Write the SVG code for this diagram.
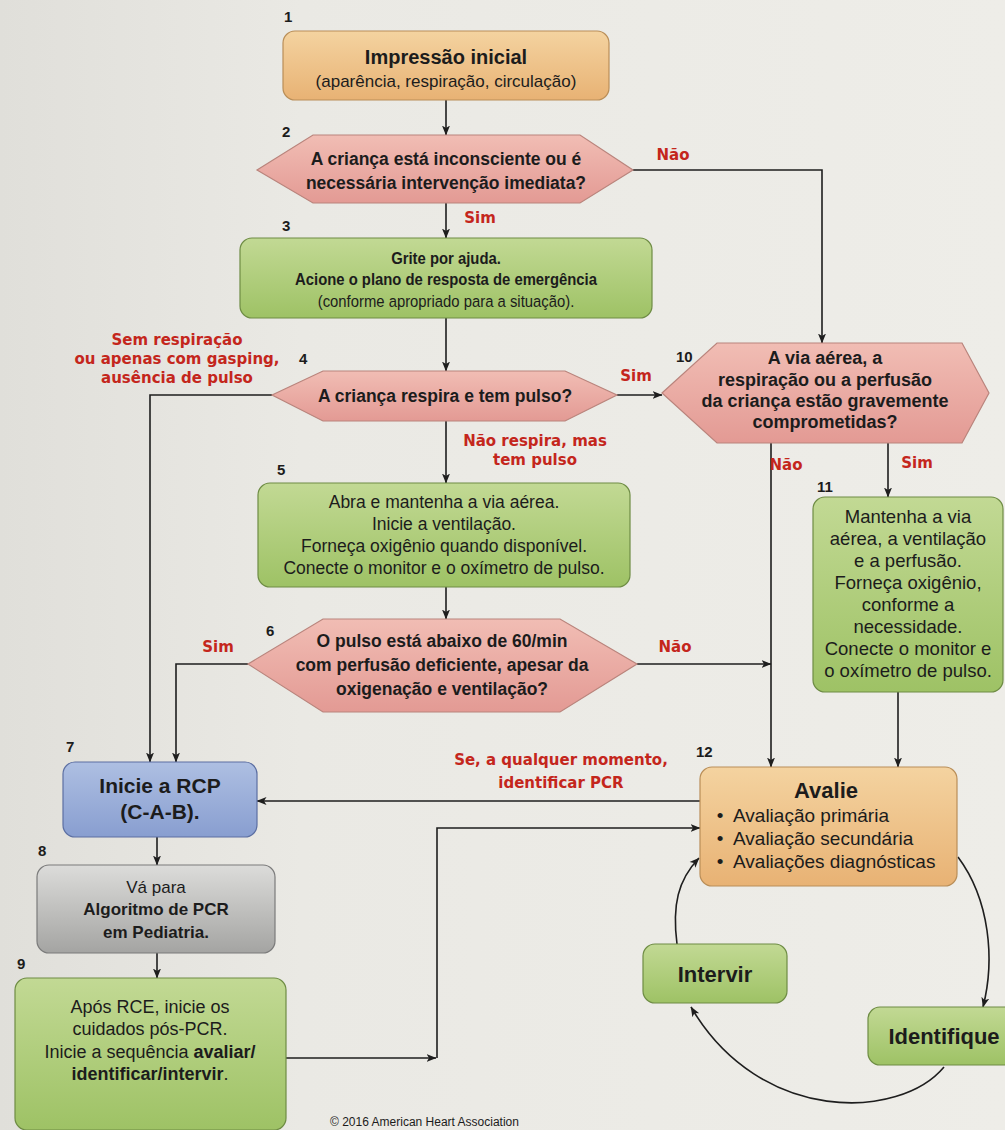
<svg xmlns="http://www.w3.org/2000/svg" width="1005" height="1130" viewBox="0 0 1005 1130">
<defs>
<linearGradient id="gOrange" x1="0" y1="0" x2="0" y2="1"><stop offset="0" stop-color="#f4d3a0"/><stop offset="1" stop-color="#e8b274"/></linearGradient>
<linearGradient id="gGreen" x1="0" y1="0" x2="0" y2="1"><stop offset="0" stop-color="#c2d994"/><stop offset="1" stop-color="#9ec265"/></linearGradient>
<linearGradient id="gPink" x1="0" y1="0" x2="0" y2="1"><stop offset="0" stop-color="#f1bdb4"/><stop offset="1" stop-color="#e39a94"/></linearGradient>
<linearGradient id="gBlue" x1="0" y1="0" x2="0" y2="1"><stop offset="0" stop-color="#aebfe2"/><stop offset="1" stop-color="#889ed0"/></linearGradient>
<linearGradient id="gGray" x1="0" y1="0" x2="0" y2="1"><stop offset="0" stop-color="#dcdcda"/><stop offset="1" stop-color="#a4a4a2"/></linearGradient>
<linearGradient id="gBg" x1="0" y1="0" x2="1" y2="0"><stop offset="0" stop-color="#e0dfda"/><stop offset="0.3" stop-color="#eae9e4"/><stop offset="1" stop-color="#eeede8"/></linearGradient>
<marker id="arr" viewBox="0 0 10 10" refX="9.5" refY="5" markerWidth="10" markerHeight="10" orient="auto" markerUnits="userSpaceOnUse"><path d="M0,1 L10,5 L0,9 L2.5,5 z" fill="#1e1e1e"/></marker>
</defs>
<style>
text{font-family:"Liberation Sans",Arial,sans-serif;fill:#1c1c1c;text-anchor:middle}
.b{font-weight:bold}
.num{font-weight:bold;font-size:15px;text-anchor:start}
.red{fill:#c4261c;font-weight:bold;font-size:15px;font-family:"DejaVu Sans","Liberation Sans",sans-serif}
.box{stroke-width:1.2}
.or{fill:url(#gOrange);stroke:#b98e58}
.gr{fill:url(#gGreen);stroke:#6e8c44}
.pk{fill:url(#gPink);stroke:#b9847c}
.bl{fill:url(#gBlue);stroke:#5c6fa2}
.gy{fill:url(#gGray);stroke:#7b7b7b}
.c2{fill:none;stroke:#1e1e1e;stroke-width:1.6;marker-end:url(#arr)}
</style>
<rect width="1005" height="1130" fill="url(#gBg)"/>

<g id="connectors">
<path class="c2" d="M446,100 V135"/>
<path class="c2" d="M446,203 V238"/>
<path class="c2" d="M633,170 H822 V343"/>
<path class="c2" d="M446,318 V371"/>
<path class="c2" d="M617,395 H662"/>
<path class="c2" d="M272,395 H150 V762"/>
<path class="c2" d="M446,421 V483"/>
<path class="c2" d="M446,587 V619"/>
<path class="c2" d="M248,664 H176 V762"/>
<path class="c2" d="M637,664 H771"/>
<path class="c2" d="M771,443 V767"/>
<path class="c2" d="M888,443 V497"/>
<path class="c2" d="M898,692 V767"/>
<path class="c2" d="M700,801 H257"/>
<path class="c2" d="M157,837 V865"/>
<path class="c2" d="M157,953 V978"/>
<path class="c2" d="M286,1058 H436"/>
<path class="c2" d="M437,1058 V828 H700"/>
<path class="c2" d="M958,857 C990,900 995,960 983,1007"/>
<path class="c2" d="M944,1067 C900,1120 760,1125 691,1007"/>
<path class="c2" d="M677,944 C672,905 678,880 699,858"/>
</g>

<g id="n1">
<rect class="box or" x="283" y="31" width="326" height="69" rx="12"/>
<text class="b" x="446" y="64" font-size="20">Impressão inicial</text>
<text x="446" y="87" font-size="17">(aparência, respiração, circulação)</text>
<text class="num" x="284" y="22">1</text>
</g>

<g id="n2">
<polygon class="box pk" points="257,170 313,135 580,135 633,170 580,203 313,203"/>
<text class="b" x="446" y="165" font-size="17.5">A criança está inconsciente ou é</text>
<text class="b" x="446" y="189" font-size="17.5">necessária intervenção imediata?</text>
<text class="num" x="282" y="137">2</text>
<text class="red" x="673" y="160">Não</text>
</g>

<g id="n3">
<rect class="box gr" x="240" y="238" width="412" height="80" rx="12"/>
<g transform="translate(446,0) scale(0.9,1) translate(-446,0)">
<text class="b" x="446" y="264" font-size="16.5">Grite por ajuda.</text>
<text class="b" x="446" y="285" font-size="16.5">Acione o plano de resposta de emergência</text>
<text x="446" y="307" font-size="16.5">(conforme apropriado para a situação).</text>
</g>
<text class="num" x="282" y="231">3</text>
<text class="red" x="480" y="223">Sim</text>
</g>

<g id="n4">
<polygon class="box pk" points="272,395 323,371 565,371 617,395 565,421 323,421"/>
<text class="b" x="445" y="402" font-size="17.5">A criança respira e tem pulso?</text>
<text class="num" x="299" y="364">4</text>
<text class="red" x="177" y="345">Sem respiração</text>
<text class="red" x="177" y="364">ou apenas com gasping,</text>
<text class="red" x="177" y="383">ausência de pulso</text>
<text class="red" x="636" y="381">Sim</text>
<text class="red" x="535" y="446">Não respira, mas</text>
<text class="red" x="535" y="465">tem pulso</text>
</g>

<g id="n5">
<rect class="box gr" x="258" y="483" width="372" height="104" rx="12"/>
<text x="444" y="508" font-size="17.5">Abra e mantenha a via aérea.</text>
<text x="444" y="530" font-size="17.5">Inicie a ventilação.</text>
<text x="444" y="552" font-size="17.5">Forneça oxigênio quando disponível.</text>
<text x="444" y="574" font-size="17.5">Conecte o monitor e o oxímetro de pulso.</text>
<text class="num" x="277" y="475">5</text>
</g>

<g id="n6">
<polygon class="box pk" points="248,664 323,619 560,619 637,664 560,712 323,712"/>
<text class="b" x="442" y="647" font-size="17.5">O pulso está abaixo de 60/min</text>
<text class="b" x="442" y="671" font-size="17.5">com perfusão deficiente, apesar da</text>
<text class="b" x="442" y="695" font-size="17.5">oxigenação e ventilação?</text>
<text class="num" x="266" y="636">6</text>
<text class="red" x="218" y="652">Sim</text>
<text class="red" x="675" y="652">Não</text>
</g>

<g id="n7">
<rect class="box bl" x="63" y="762" width="194" height="75" rx="12"/>
<text class="b" x="160" y="793" font-size="21">Inicie a RCP</text>
<text class="b" x="160" y="819" font-size="21">(C-A-B).</text>
<text class="num" x="66" y="752">7</text>
<text class="red" x="561" y="765">Se, a qualquer momento,</text>
<text class="red" x="561" y="788">identificar PCR</text>
</g>

<g id="n8">
<rect class="box gy" x="37" y="865" width="238" height="88" rx="12"/>
<text x="156" y="893" font-size="17">Vá para</text>
<text class="b" x="156" y="915" font-size="17">Algoritmo de PCR</text>
<text class="b" x="156" y="938" font-size="17">em Pediatria.</text>
<text class="num" x="38" y="856">8</text>
</g>

<g id="n9">
<rect class="box gr" x="15" y="978" width="271" height="152" rx="12"/>
<text x="150" y="1013" font-size="18">Após RCE, inicie os</text>
<text x="150" y="1035" font-size="18">cuidados pós-PCR.</text>
<text x="150" y="1058" font-size="18">Inicie a sequência <tspan class="b">avaliar/</tspan></text>
<text class="b" x="150" y="1080" font-size="18">identificar/intervir<tspan font-weight="normal">.</tspan></text>
<text class="num" x="17" y="969">9</text>
</g>

<g id="n10">
<polygon class="box pk" points="662,393 717,343 962,343 989,393 962,443 717,443"/>
<text class="b" x="825" y="364" font-size="18">A via aérea, a</text>
<text class="b" x="825" y="386" font-size="18">respiração ou a perfusão</text>
<text class="b" x="825" y="407" font-size="18">da criança estão gravemente</text>
<text class="b" x="825" y="428" font-size="18">comprometidas?</text>
<text class="num" x="676" y="362">10</text>
<text class="red" x="786" y="470">Não</text>
<text class="red" x="917" y="468">Sim</text>
</g>

<g id="n11">
<rect class="box gr" x="813" y="497" width="190" height="195" rx="12"/>
<text x="908" y="523" font-size="18.5">Mantenha a via</text>
<text x="908" y="545" font-size="18.5">aérea, a ventilação</text>
<text x="908" y="567" font-size="18.5">e a perfusão.</text>
<text x="908" y="589" font-size="18.5">Forneça oxigênio,</text>
<text x="908" y="611" font-size="18.5">conforme a</text>
<text x="908" y="633" font-size="18.5">necessidade.</text>
<text x="908" y="655" font-size="18.5">Conecte o monitor e</text>
<text x="908" y="677" font-size="18.5">o oxímetro de pulso.</text>
<text class="num" x="817" y="492">11</text>
</g>

<g id="n12">
<rect class="box or" x="700" y="767" width="257" height="119" rx="12"/>
<text class="b" x="826" y="798" font-size="22">Avalie</text>
<text x="720" y="822" font-size="19">•</text>
<text x="720" y="845" font-size="19">•</text>
<text x="720" y="868" font-size="19">•</text>
<text x="733" y="822" font-size="19" style="text-anchor:start">Avaliação primária</text>
<text x="733" y="845" font-size="19" style="text-anchor:start">Avaliação secundária</text>
<text x="733" y="868" font-size="19" style="text-anchor:start">Avaliações diagnósticas</text>
<text class="num" x="696" y="757">12</text>
</g>

<g id="nIntervir">
<rect class="box gr" x="643" y="944" width="144" height="59" rx="12"/>
<text class="b" x="715" y="982" font-size="22">Intervir</text>
</g>

<g id="nIdentifique">
<rect class="box gr" x="868" y="1007" width="150" height="58" rx="12"/>
<text class="b" x="944" y="1044" font-size="22">Identifique</text>
</g>

<text x="330" y="1126" font-size="12" style="text-anchor:start">© 2016 American Heart Association</text>
</svg>
